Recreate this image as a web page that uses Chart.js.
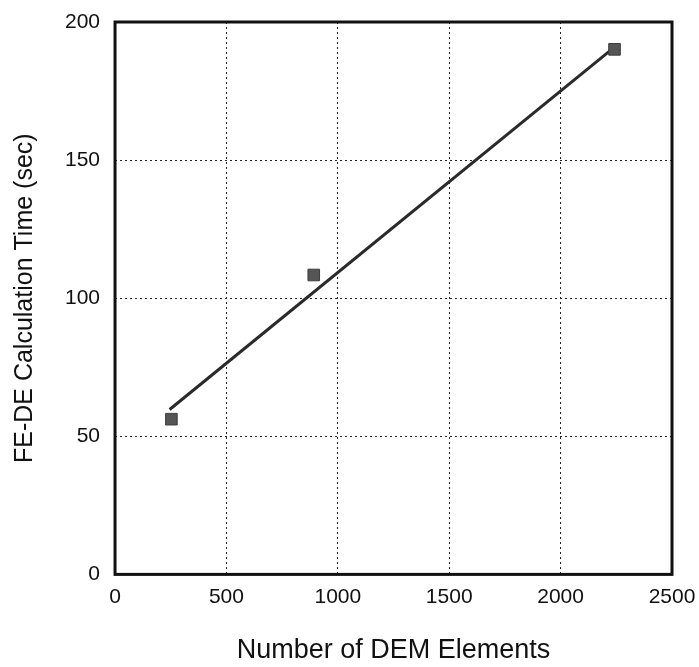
<!DOCTYPE html>
<html>
<head>
<meta charset="utf-8">
<script src="https://cdn.jsdelivr.net/npm/chart.js@4/dist/chart.umd.min.js"></script>
<style>
  html, body { margin: 0; padding: 0; background: #fff; }
  #wrap { width: 699px; height: 667px; }
</style>
</head>
<body>
<div id="wrap"><canvas id="c" width="699" height="667"></canvas></div>
<script>
  // measured points (DEM elements vs FE-DE calculation time)
  var demElements = [253, 892, 2242];
  var calcTimes = [56.2, 108.4, 190.1];

  // trend line ends
  var fitX = [245, 2228];
  var fitY = [59.7, 190];

  var xTicks = [0, 500, 1000, 1500, 2000, 2500];
  var yTicks = [0, 50, 100, 150, 200];

  var pts = demElements.map(function (x, i) { return { x: x, y: calcTimes[i] }; });
  var fit = fitX.map(function (x, i) { return { x: x, y: fitY[i] }; });

  // heavy box round the plot
  var frame = {
    id: 'frame',
    afterDraw: function (chart) {
      var a = chart.chartArea, ctx = chart.ctx;
      ctx.save();
      ctx.strokeStyle = '#111';
      ctx.lineWidth = 3;
      ctx.strokeRect(a.left, a.top, a.right - a.left, a.bottom - a.top);
      ctx.restore();
    }
  };

  var font = 'Liberation Sans, Arial, sans-serif';
  function plain(v) { return String(v); }

  new Chart(document.getElementById('c').getContext('2d'), {
    type: 'scatter',
    data: {
      datasets: [
        {
          label: 'fit', data: fit, showLine: true,
          borderColor: '#2a2a2a', borderWidth: 3, pointRadius: 0, order: 2
        },
        {
          label: 'data', data: pts,
          pointStyle: 'rect', pointRadius: 8.2,
          backgroundColor: '#555', borderColor: '#3c3c3c', borderWidth: 1, order: 1
        }
      ]
    },
    options: {
      responsive: false, animation: false,
      layout: { padding: { left: 0, right: 0, top: 0, bottom: 0 } },
      plugins: { legend: { display: false }, tooltip: { enabled: false } },
      scales: {
        x: {
          type: 'linear', min: 0, max: 2500,
          afterBuildTicks: function (s) { s.ticks = xTicks.map(function (v) { return { value: v }; }); },
          afterFit: function (s) { s.paddingRight = 27; },
          grid: { color: '#222', lineWidth: 1, drawTicks: false, tickLength: 0 },
          border: { display: false, dash: [2, 3] },
          ticks: { color: '#111', font: { size: 21, family: font }, padding: 10, callback: plain, maxRotation: 0 },
          title: { display: true, text: 'Number of DEM Elements', color: '#111',
                   font: { size: 27, family: font }, padding: { top: 15, bottom: 0 } }
        },
        y: {
          type: 'linear', min: 0, max: 200,
          afterBuildTicks: function (s) { s.ticks = yTicks.map(function (v) { return { value: v }; }); },
          afterFit: function (s) { s.paddingTop = 22; },
          grid: { color: '#222', lineWidth: 1, drawTicks: false, tickLength: 0 },
          border: { display: false, dash: [2, 3] },
          ticks: { color: '#111', font: { size: 21, family: font }, padding: 15, callback: plain },
          title: { display: true, text: 'FE-DE Calculation Time (sec)', color: '#111',
                   font: { size: 25, family: font }, padding: { top: 10, bottom: 10 } }
        }
      }
    },
    plugins: [frame]
  });
</script>
</body>
</html>
